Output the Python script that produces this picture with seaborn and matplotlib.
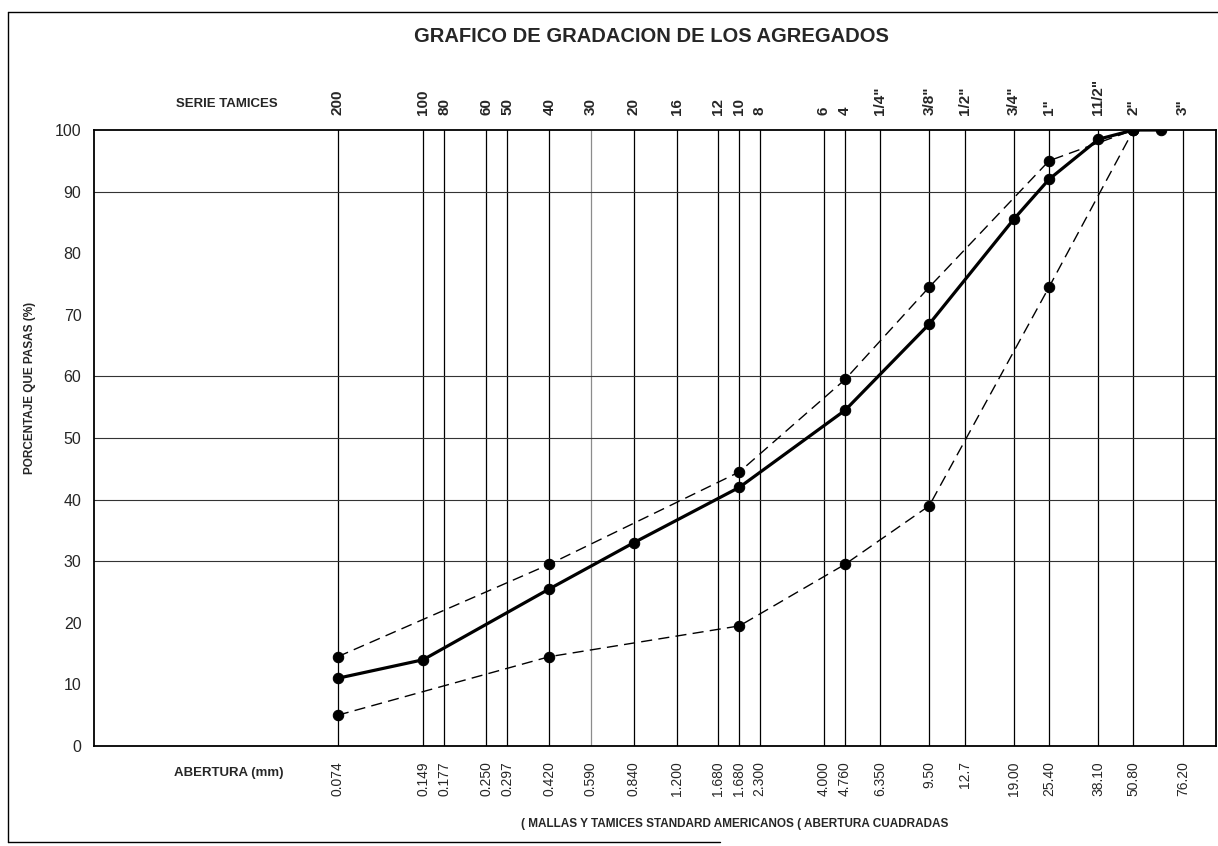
import matplotlib
matplotlib.use("Agg")
import matplotlib.pyplot as plt
from matplotlib import font_manager
from matplotlib.lines import Line2D
from matplotlib.ticker import NullLocator
import pandas as pd
import seaborn as sns

# ---- sieve series (top axis) and openings in mm (bottom axis) ----
SIEVE_NAMES = ["200", "100", "80", "60", "50", "40", "30", "20", "16", "12", "10", "8",
               "6", "4", '1/4"', '3/8"', '1/2"', '3/4"', '1"', '11/2"', '2"', '3"']
SIEVE_OPENINGS = [0.074, 0.149, 0.177, 0.250, 0.297, 0.420, 0.590, 0.840, 1.200, 1.680,
                  2.000, 2.360, 4.000, 4.760, 6.350, 9.50, 12.7, 19.00, 25.40, 38.10,
                  50.80, 76.20]
OPENING_LABELS = ["0.074", "0.149", "0.177", "0.250", "0.297", "0.420", "0.590", "0.840",
                  "1.200", "1.680", "1.680", "2.300", "4.000", "4.760", "6.350", "9.50",
                  "12.7", "19.00", "25.40", "38.10", "50.80", "76.20"]

# ---- grading curve of the aggregate ----
GRAD_SIZES = [0.074, 0.149, 0.420, 0.840, 2.000, 4.760, 9.50, 19.00, 25.40, 38.10, 50.80, 63.50]
GRAD_PASSING = [11.0, 14.0, 25.5, 33.0, 42.0, 54.5, 68.5, 85.5, 92.0, 98.5, 100.0, 100.0]

# ---- specification limits ----
LIMIT_SIZES = [0.074, 0.420, 2.000, 4.760, 9.50, 25.40, 50.80]
UPPER_LIMIT = [14.5, 29.5, 44.5, 59.5, 74.5, 95.0, 100.0]
LOWER_LIMIT = [5.0, 14.5, 19.5, 29.5, 39.0, 74.5, 100.0]

Y_TICKS = [0, 10, 20, 30, 40, 50, 60, 70, 80, 90, 100]
Y_GRID = [30, 40, 50, 60, 90]

sns.set_style("white")
installed = {f.name for f in font_manager.fontManager.ttflist}
NARROW = "Liberation Sans Narrow" if "Liberation Sans Narrow" in installed else "Liberation Sans"
HAS_NARROW = NARROW != "Liberation Sans"
plt.rcParams["font.family"] = ["Liberation Sans", "DejaVu Sans"]

W, H = 1218, 846
fig = plt.figure(figsize=(W / 100, H / 100), dpi=100)
fig.patch.set_facecolor("white")


def fx(px):
    return px / W


def fy(py):
    return 1 - py / H


ax = fig.add_axes([fx(94), fy(746), fx(1216) - fx(94), fy(130) - fy(746)])

grad = pd.DataFrame({"abertura": GRAD_SIZES, "pasa": GRAD_PASSING})
upper = pd.DataFrame({"abertura": LIMIT_SIZES, "pasa": UPPER_LIMIT})
lower = pd.DataFrame({"abertura": LIMIT_SIZES, "pasa": LOWER_LIMIT})

for frame in (upper, lower):
    sns.lineplot(data=frame, x="abertura", y="pasa", ax=ax, color="black",
                 linewidth=1.0, linestyle=(0, (8, 4.5)), marker="o", markersize=7.5,
                 markeredgecolor="black", markerfacecolor="black", errorbar=None,
                 zorder=4)
sns.lineplot(data=grad, x="abertura", y="pasa", ax=ax, color="black", linewidth=2.3,
             marker="o", markersize=7.5, markeredgecolor="black",
             markerfacecolor="black", errorbar=None, zorder=5)

ax.set_xscale("log")
ax.set_xlim(0.01, 100)
ax.set_ylim(0, 100)
ax.set_xlabel("")
ax.set_ylabel("")

# bottom axis: sieve openings
ax.set_xticks(SIEVE_OPENINGS)
ax.set_xticklabels(OPENING_LABELS, rotation=90, fontsize=10, va="top")
ax.xaxis.set_minor_locator(NullLocator())
ax.tick_params(axis="x", length=0, pad=11)

ax.set_yticks(Y_TICKS)
ax.set_yticklabels([str(v) for v in Y_TICKS], fontsize=11.5)
ax.tick_params(axis="y", length=0, pad=9)

# vertical grid at every sieve, horizontal guides
ax.set_axisbelow(True)
ax.grid(axis="x", color="black", linewidth=0.9)
ax.grid(axis="y", visible=False)
ax.get_xgridlines()[SIEVE_OPENINGS.index(0.590)].set_color("0.55")
for v in Y_GRID:
    ax.axhline(v, color="0.2", linewidth=0.8, zorder=1)

for s in ax.spines.values():
    s.set_visible(True)
    s.set_color("black")
    s.set_linewidth(1.3)

# top axis: sieve series names
ax2 = ax.twiny()
ax2.set_xscale("log")
ax2.set_xlim(ax.get_xlim())
ax2.set_xticks(SIEVE_OPENINGS)
ax2.set_xticklabels(SIEVE_NAMES, rotation=90, fontsize=11, fontweight="bold", va="bottom")
ax2.xaxis.set_minor_locator(NullLocator())
ax2.tick_params(axis="x", length=0, pad=11)
for s in ax2.spines.values():
    s.set_visible(False)

# titles and captions
fig.text(fx(651), fy(36), "GRAFICO DE GRADACION DE LOS AGREGADOS", ha="center", va="center",
         fontsize=17.5 if HAS_NARROW else 14.5, fontweight="bold", family=NARROW)
fig.text(fx(227), fy(104), "SERIE TAMICES", ha="center", va="center",
         fontsize=11.5 if HAS_NARROW else 9.5, fontweight="bold", family=NARROW)
fig.text(fx(229), fy(773), "ABERTURA (mm)", ha="center", va="center",
         fontsize=11.5 if HAS_NARROW else 9.5, fontweight="bold", family=NARROW)
fig.text(fx(735), fy(824), "( MALLAS Y TAMICES STANDARD AMERICANOS ( ABERTURA CUADRADAS",
         ha="center", va="center", fontsize=10 if HAS_NARROW else 8.5,
         fontweight="bold", family=NARROW)
fig.text(fx(30), fy(388), "PORCENTAJE QUE PASAS (%)", ha="center", va="center", rotation=90,
         fontsize=10.5 if HAS_NARROW else 8.5, fontweight="bold", family=NARROW)

# page frame
frame_kw = dict(transform=fig.transFigure, color="black", linewidth=1.0)
fig.add_artist(Line2D([fx(8), fx(8)], [fy(842), fy(12)], **frame_kw))
fig.add_artist(Line2D([fx(8), 1.0], [fy(12), fy(12)], **frame_kw))
fig.add_artist(Line2D([fx(8), fx(720)], [fy(842), fy(842)], **frame_kw))

fig.savefig("out.png", dpi=100, facecolor="white")
